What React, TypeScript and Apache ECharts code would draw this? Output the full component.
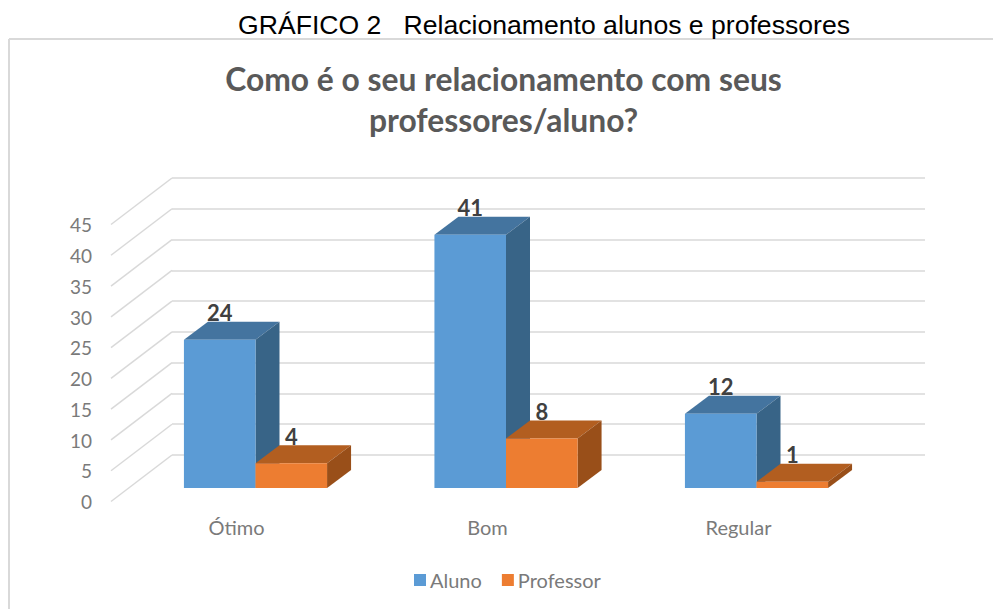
import React, { useEffect, useRef } from "react";
import * as echarts from "echarts";

const categories = ["Ótimo", "Bom", "Regular"];
const aluno = [24, 41, 12];
const professor = [4, 8, 1];
const yTicks = [0, 5, 10, 15, 20, 25, 30, 35, 40, 45];

const FONT = "Lato, 'Noto Sans', sans-serif";
const GREY = "#7a7a7a";

function barRenderer(front: string, top: string, side: string, slot: number) {
  return (params: any, api: any) => {
    const cat = api.value(0);
    const val = api.value(1);
    const base = api.coord([cat, 0]);
    const head = api.coord([cat, val]);
    const band = api.size([1, 0])[0];
    const w = band * 0.2857;
    const x0 = base[0] + (slot === 0 ? -w : 0);
    const x1 = x0 + w;
    const dx = 24;
    const dy = -18;
    const yb = base[1];
    const yt = head[1];
    return {
      type: "group",
      children: [
        { type: "polygon", shape: { points: [[x0, yt], [x1, yt], [x1 + dx, yt + dy], [x0 + dx, yt + dy]] }, style: { fill: top } },
        { type: "polygon", shape: { points: [[x1, yt], [x1 + dx, yt + dy], [x1 + dx, yb + dy], [x1, yb]] }, style: { fill: side } },
        { type: "rect", shape: { x: x0, y: yt, width: w, height: yb - yt }, style: { fill: front } },
        {
          type: "text",
          z2: 10,
          style: {
            x: (x0 + x1) / 2,
            y: yt - 27,
            text: String(val),
            align: "center",
            verticalAlign: "middle",
            fill: "#404040",
            font: `bold 22px ${FONT}`,
          },
        },
      ],
    };
  };
}

function diagonal(params: any, api: any) {
  const p = api.coord([0, api.value(0)]);
  const x = p[0] - api.size([1, 0])[0] / 2;
  return {
    type: "line",
    shape: { x1: x, y1: p[1], x2: x - 61, y2: p[1] + 46.5 },
    style: { stroke: "#d9d9d9", lineWidth: 1.5 },
  };
}

export default function App() {
  const ref = useRef<HTMLDivElement>(null);
  useEffect(() => {
    const chart = echarts.init(ref.current!, undefined, { renderer: "svg" });
    const yBase = { type: "value", min: 0, max: 45, interval: 5 };
    chart.setOption({
      animation: false,
      backgroundColor: "#fff",
      title: [
        {
          text: "GRÁFICO 2   Relacionamento alunos e professores",
          left: 539,
          top: 6,
          textAlign: "center",
          textStyle: { fontFamily: "'Liberation Sans', Arial, sans-serif", fontWeight: "normal", fontSize: 26.6, color: "#000", lineHeight: 28 },
        },
        {
          text: "Como é o seu relacionamento com seus\nprofessores/aluno?",
          left: 498.5,
          top: 53,
          textAlign: "center",
          textStyle: { fontFamily: FONT, fontWeight: "bold", fontSize: 31.8, color: "#595959", lineHeight: 41 },
        },
      ],
      legend: {
        data: ["Aluno", "Professor"],
        left: 409,
        top: 565,
        icon: "rect",
        itemWidth: 12,
        itemHeight: 12,
        itemGap: 20,
        textStyle: { fontFamily: FONT, fontSize: 20, color: GREY, padding: [0, 0, 0, -1] },
      },
      grid: [
        { left: 172, right: 68, top: 178, bottom: 154 },
        { left: 111, right: 129, top: 224.7, bottom: 107.3 },
        { left: 130.25, right: 111.25, top: 210, bottom: 121 },
      ],
      xAxis: [
        { type: "category", gridIndex: 0, data: categories, show: false },
        {
          type: "category",
          gridIndex: 1,
          data: categories,
          axisLine: { show: false },
          axisTick: { show: false },
          axisLabel: { margin: 15, fontFamily: FONT, fontSize: 20, color: GREY },
        },
        { type: "category", gridIndex: 2, data: categories, show: false },
      ],
      yAxis: [
        { ...yBase, gridIndex: 0, axisLabel: { show: false }, axisLine: { show: false }, axisTick: { show: false }, splitLine: { show: true, lineStyle: { color: "#d9d9d9", width: 1.5 } } },
        { ...yBase, gridIndex: 1, axisLine: { show: false }, axisTick: { show: false }, splitLine: { show: false }, axisLabel: { margin: 19, fontFamily: FONT, fontSize: 19, color: GREY } },
        { ...yBase, gridIndex: 2, show: false, splitLine: { show: false } },
      ],
      series: [
        {
          type: "custom",
          name: "grade",
          xAxisIndex: 0,
          yAxisIndex: 0,
          silent: true,
          data: yTicks.map((v) => [v]),
          encode: { y: 0 },
          renderItem: diagonal,
        },
        {
          type: "custom",
          name: "Aluno",
          xAxisIndex: 2,
          yAxisIndex: 2,
          itemStyle: { color: "#5B9BD5" },
          data: aluno.map((v, i) => [i, v]),
          encode: { x: 0, y: 1 },
          renderItem: barRenderer("#5B9BD5", "#44749F", "#386487", 0),
        },
        {
          type: "custom",
          name: "Professor",
          xAxisIndex: 2,
          yAxisIndex: 2,
          itemStyle: { color: "#ED7D31" },
          data: professor.map((v, i) => [i, v]),
          encode: { x: 0, y: 1 },
          renderItem: barRenderer("#ED7D31", "#B25E20", "#994F19", 1),
        },
      ],
      graphic: [
        { type: "line", shape: { x1: 9, y1: 39, x2: 993, y2: 39 }, style: { stroke: "#d9d9d9", lineWidth: 2 } },
        { type: "line", shape: { x1: 9, y1: 39, x2: 9, y2: 609 }, style: { stroke: "#d9d9d9", lineWidth: 2 } },
      ],
    });
    return () => chart.dispose();
  }, []);
  return <div ref={ref} style={{ position: "absolute", left: 0, top: 0, width: 993, height: 609 }} />;
}
